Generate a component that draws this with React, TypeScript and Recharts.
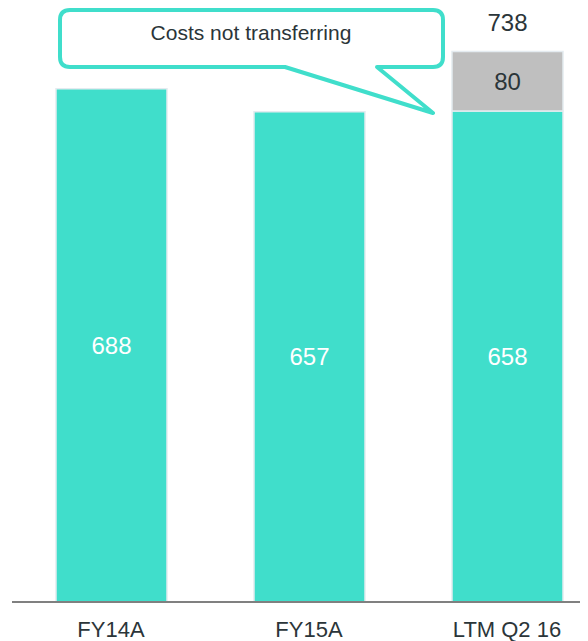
import React from 'react';
import { BarChart, Bar, XAxis, YAxis, LabelList, Customized } from 'recharts';

const categories = ['FY14A', 'FY15A', 'LTM Q2 16'];
const baseCosts = [688, 657, 658];
const notTransferring = [0, 0, 80];
const totalLabels = [null, null, 738];

const data = categories.map((name, i) => ({
  name,
  base: baseCosts[i],
  extra: notTransferring[i],
  total: totalLabels[i],
}));

const TEAL = '#40DECB';
const GREY = '#BFBFBF';
const DARK = '#2B3539';
const FONT = '"Liberation Sans", Arial, sans-serif';

const Callout = () => {
  // speech bubble annotation pointing at the grey segment
  const L = 52, R = 435, T = 2, B = 59, r = 10;
  const d = `M ${L + r} ${T} H ${R - r} Q ${R} ${T} ${R} ${T + r} V ${B - r} Q ${R} ${B} ${R - r} ${B} H 369 L 425 105 L 277 ${B} H ${L + r} Q ${L} ${B} ${L} ${B - r} V ${T + r} Q ${L} ${T} ${L + r} ${T} Z`;
  return (
    <g>
      <path d={d} fill="#fff" stroke={TEAL} strokeWidth={4} strokeLinejoin="round" />
      <text x={243} y={32} textAnchor="middle" fontSize={21} fill={DARK} fontFamily={FONT}>
        Costs not transferring
      </text>
    </g>
  );
};

const TotalLabel = (props: any) => {
  const vb = props.viewBox || props;
  const { x, y, width } = vb;
  if (props.value == null || x == null) return null;
  return (
    <text x={x + width / 2} y={y - 20} textAnchor="middle" fontSize={24} fill={DARK} fontFamily={FONT}>
      {props.value}
    </text>
  );
};

export default function App() {
  return (
    <div style={{ width: 600, height: 633, overflow: 'hidden' }}>
      <style>{'html, body { overflow: hidden; }'}</style>
      <BarChart
        width={600}
        height={633}
        data={data}
        margin={{ top: 27, right: 2, bottom: 9, left: 4 }}
        style={{ fontFamily: FONT }}
      >
        <XAxis
          dataKey="name"
          axisLine={{ stroke: '#808080', strokeWidth: 2 }}
          tickLine={false}
          tickMargin={13}
          tick={{ fill: DARK, fontSize: 22, fontFamily: FONT }}
          height={30}
        />
        <YAxis hide domain={[0, 760]} />
        <Bar dataKey="base" stackId="a" fill={TEAL} stroke="#E4EBF0" strokeWidth={1.5} barSize={111} isAnimationActive={false}>
          <LabelList dataKey="base" position="center" fill="#fff" fontSize={24} fontFamily={FONT} />
        </Bar>
        <Bar dataKey="extra" stackId="a" fill={GREY} stroke="#E4EBF0" strokeWidth={1.5} barSize={111} isAnimationActive={false}>
          <LabelList
            dataKey="extra"
            position="center"
            fill={DARK}
            fontSize={24}
            fontFamily={FONT}
            formatter={(v: any) => (v ? v : '')}
          />
          <LabelList dataKey="total" content={<TotalLabel />} />
        </Bar>
        <Customized component={Callout} />
      </BarChart>
    </div>
  );
}
